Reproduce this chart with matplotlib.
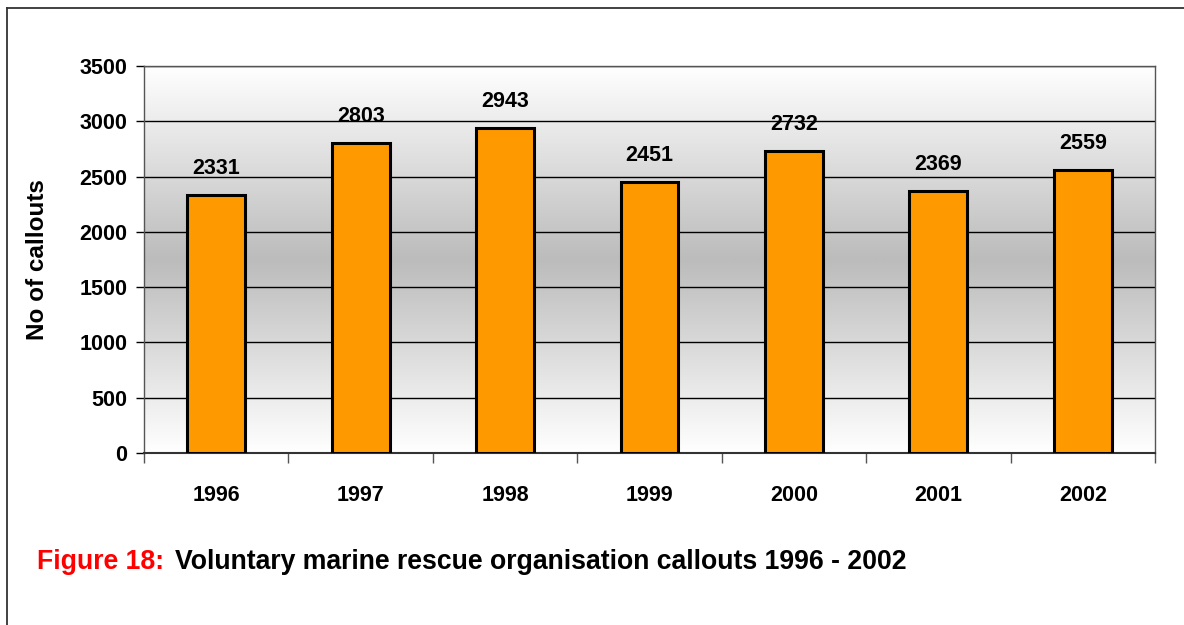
import numpy as np
import matplotlib
matplotlib.use("Agg")
import matplotlib.pyplot as plt
from matplotlib.lines import Line2D
from matplotlib.colors import LinearSegmentedColormap

years = ["1996", "1997", "1998", "1999", "2000", "2001", "2002"]
callouts = [2331, 2803, 2943, 2451, 2732, 2369, 2559]
yticks = [0, 500, 1000, 1500, 2000, 2500, 3000, 3500]

plt.rcParams['font.family'] = ['Liberation Sans', 'DejaVu Sans']
plt.rcParams['font.weight'] = 'bold'

W, H = 1184, 625
fig = plt.figure(figsize=(W / 100, H / 100), dpi=100)
fig.patch.set_facecolor('white')

# outer frame (left and top)
fig.add_artist(Line2D([7 / W, 7 / W], [0, 1 - 8 / H], transform=fig.transFigure, color='#333333', lw=1.3))
fig.add_artist(Line2D([7 / W, 1], [1 - 8 / H, 1 - 8 / H], transform=fig.transFigure, color='#333333', lw=1.3))

left, right, top, bottom = 144, 1155, 66, 453
ax = fig.add_axes([left / W, 1 - bottom / H, (right - left) / W, (bottom - top) / H])

x = np.arange(len(years))
ax.set_xlim(-0.5, len(years) - 0.5)
ax.set_ylim(0, 3500)

# gradient background: white at top/bottom, gray in middle
t = np.linspace(0, 1, 256)
g = 1 - np.abs(t - 0.5) * 2
cmap = LinearSegmentedColormap.from_list('bg', ['#ffffff', '#bcbcbc'])
ax.imshow(g[:, None], aspect='auto', cmap=cmap, extent=[-0.5, len(years) - 0.5, 0, 3500],
          origin='lower', zorder=0, interpolation='bilinear')

for yv in yticks[1:]:
    ax.axhline(yv, color='black', lw=1.0, zorder=1)

ax.bar(x, callouts, width=0.4, color='#FF9900', edgecolor='black', linewidth=2.2, zorder=3)

for xi, v in zip(x, callouts):
    ax.annotate(str(v), (xi, v), xytext=(0, 15), textcoords='offset points',
                ha='center', va='baseline', fontsize=15.5, fontweight='bold', color='black')

ax.set_yticks(yticks)
ax.set_yticklabels([str(v) for v in yticks], fontsize=15.5, fontweight='bold')
ax.set_xticks(x)
ax.set_xticklabels(years, fontsize=15.5, fontweight='bold')
ax.set_xticks(np.arange(-0.5, len(years), 1.0), minor=True)
ax.tick_params(axis='x', which='major', length=0, pad=23)
ax.tick_params(axis='x', which='minor', length=7, width=1, color='#555555')
ax.tick_params(axis='y', which='major', length=6, width=1, pad=6)

for s in ['top', 'right']:
    ax.spines[s].set_color('#555555')
    ax.spines[s].set_linewidth(1.0)
ax.spines['left'].set_color('#555555')
ax.spines['left'].set_linewidth(1.0)
ax.spines['bottom'].set_color('#333333')
ax.spines['bottom'].set_linewidth(1.5)

ax.set_ylabel('No of callouts', fontsize=17.5, fontweight='bold')
ax.yaxis.set_label_coords(-0.094, 0.5)

# caption
cap_y = 1 - 569 / H
t1 = fig.text(37 / W, cap_y, 'Figure 18:', color='#FF0000', fontsize=19.2, fontweight='bold',
              va='baseline')
fig.canvas.draw()
bb = t1.get_window_extent()
fig.text(bb.x1 / W + 11 / W, cap_y, 'Voluntary marine rescue organisation callouts 1996 - 2002',
         color='black', fontsize=19.2, fontweight='bold', va='baseline')

fig.savefig('out.png', dpi=100)
